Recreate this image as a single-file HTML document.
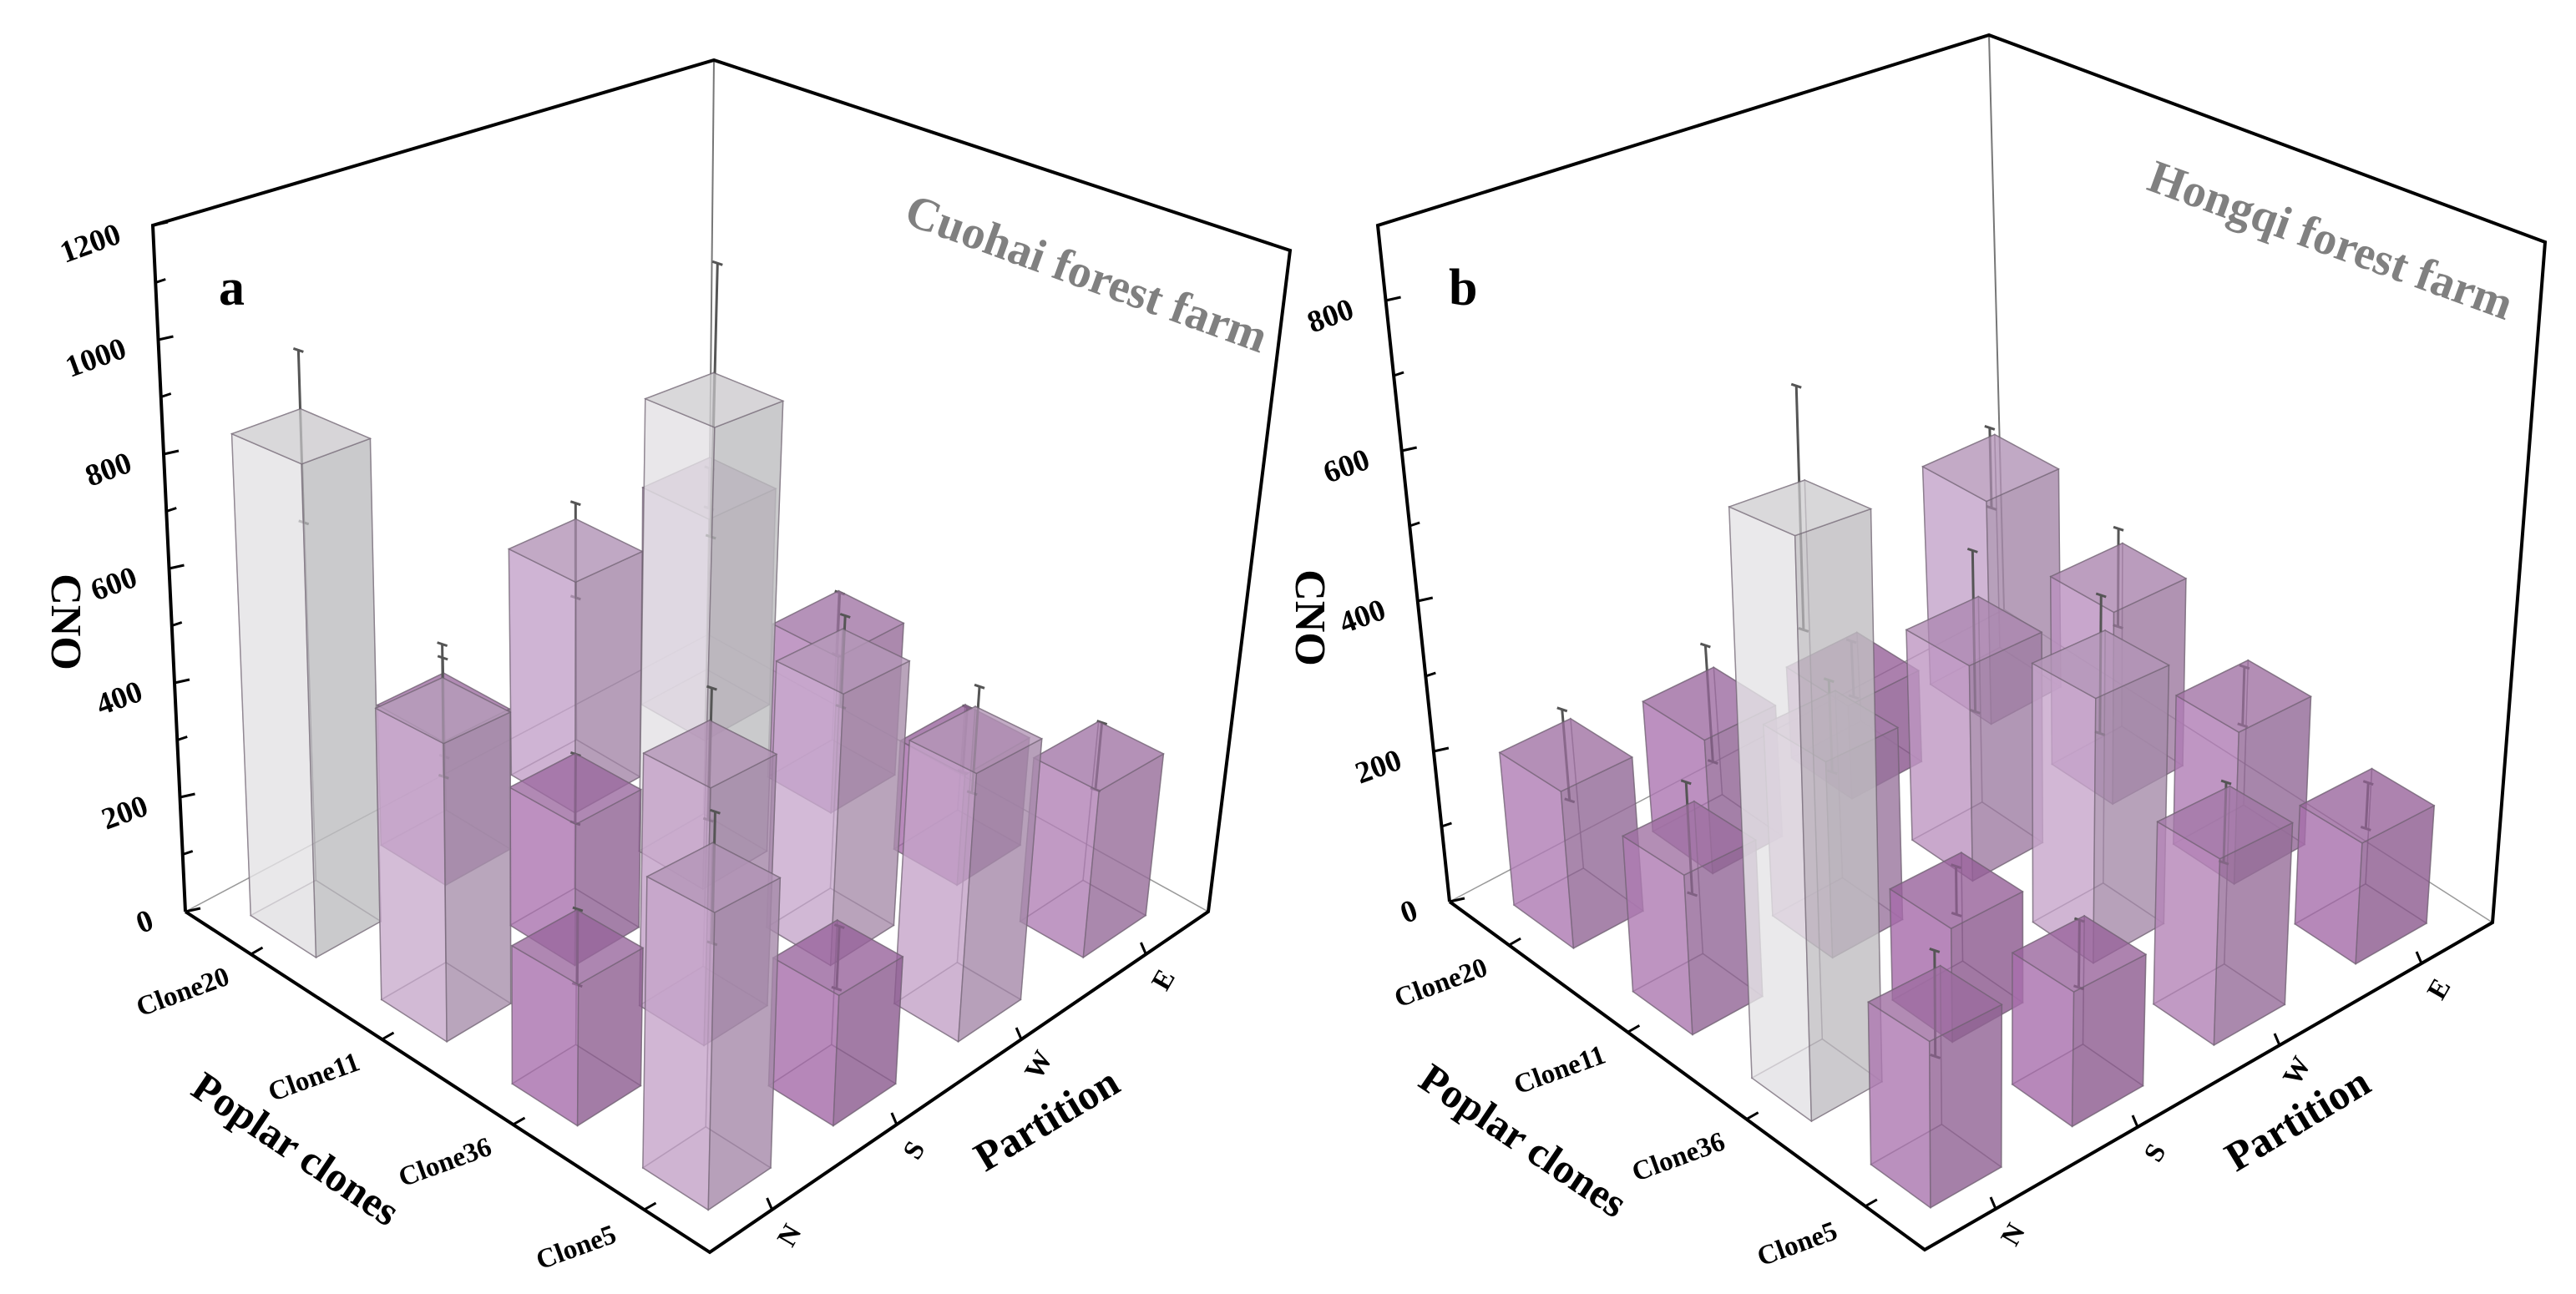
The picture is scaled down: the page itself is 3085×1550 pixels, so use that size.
<!DOCTYPE html>
<html><head><meta charset="utf-8"><style>
html,body{margin:0;padding:0;background:#fff;}
svg{display:block;}
text{font-family:"Liberation Serif",serif;font-weight:bold;}
</style></head><body>
<svg id="chart" width="3085" height="1550" viewBox="0 0 3085 1550" xmlns="http://www.w3.org/2000/svg">
<rect width="3085" height="1550" fill="#fff"/>
</svg>
<script>
const partitions = ["N","S","W","E"];
const clones = ["Clone20","Clone11","Clone36","Clone5"];
// values[clone][partition]
const valuesA = [[840,255,430,433],[484,240,825,293],[219,420,466,200],[442,204,443,291]];
const errorsA = [[150,90,90,40],[110,60,250,60],[60,110,80,60],[100,50,90,60]];
const valuesB = [[202,179,130,326],[195,250,287,268],[680,138,337,203],[184,156,227,155]];
const errorsB = [[60,80,40,60],[70,60,110,70],[145,30,90,40],[60,40,50,30]];
const yTicksA = [0,200,400,600,800,1000,1200];
const yTicksB = [0,200,400,600,800];

const NS="http://www.w3.org/2000/svg";
const svg=document.getElementById('chart');
function mk(tag,attrs,parent){const e=document.createElementNS(NS,tag);for(const k in attrs)e.setAttribute(k,attrs[k]);(parent||svg).appendChild(e);return e;}

const panels=[
 {id:'a',values:valuesA,errors:errorsA,ticks:yTicksA,max:1200,
  L:[222,1092],B:[848,760],R:[1447,1092],F:[850,1500],
  Lt:[183,270],Bt:[855,72],Rt:[1545,300],Ft:[870,510],
  title:'Cuohai forest farm',titlePos:[1295,345],letterPos:[262,365],cnoPos:[62,745],
  popPos:[345,1390],partPos:[1262,1355]},
 {id:'b',values:valuesB,errors:errorsB,ticks:yTicksB,max:900,
  L:[1736,1080],B:[2400,730],R:[2985,1105],F:[2305,1497],
  Lt:[1650,270],Bt:[2382,42],Rt:[3048,290],Ft:[2300,500],
  title:'Hongqi forest farm',titlePos:[2785,305],letterPos:[1735,365],cnoPos:[1552,740],
  popPos:[1815,1380],partPos:[2760,1355]}
];

function bil(P,u,v,a,b,c,d){return [a[0]*(1-u)*(1-v)+b[0]*u*(1-v)+c[0]*u*v+d[0]*(1-u)*v,
  a[1]*(1-u)*(1-v)+b[1]*u*(1-v)+c[1]*u*v+d[1]*(1-u)*v];}
function proj(P,u,v,t){const f=bil(P,u,v,P.L,P.B,P.R,P.F);const g=bil(P,u,v,P.Lt,P.Bt,P.Rt,P.Ft);
  return [f[0]*(1-t)+g[0]*t,f[1]*(1-t)+g[1]*t];}
function pts(a){return a.map(p=>p[0].toFixed(1)+','+p[1].toFixed(1)).join(' ');}
function lerp(a,b,t){return a+(b-a)*t;}
function cmap(t){const stops=[[0,[150,80,155]],[0.17,[168,110,172]],[0.38,[200,168,205]],[0.62,[226,224,228]],[1,[236,236,238]]];
  for(let i=0;i<stops.length-1;i++){const[s0,c0]=stops[i],[s1,c1]=stops[i+1];
    if(t<=s1){const k=Math.max(0,(t-s0)/(s1-s0));return [0,1,2].map(j=>lerp(c0[j],c1[j],k));}}
  return stops[stops.length-1][1];}
function rgb(c,f){return 'rgb('+c.map(x=>Math.round(Math.min(255,x*f))).join(',')+')';}

panels.forEach(P=>{
  const g=mk('g',{});
  
  
  const bl=mk('g',{},g);
  
  
  mk('line',{x1:P.B[0],y1:P.B[1],x2:P.Bt[0],y2:P.Bt[1],stroke:'#777','stroke-width':2},bl);
  mk('line',{x1:P.L[0],y1:P.L[1],x2:P.B[0],y2:P.B[1],stroke:'#999','stroke-width':1.5},bl);
  mk('line',{x1:P.B[0],y1:P.B[1],x2:P.R[0],y2:P.R[1],stroke:'#999','stroke-width':1.5},bl);

  const cells=[];
  for(let j=0;j<4;j++)for(let i=0;i<4;i++)cells.push([i,j]);
  cells.sort((a,b)=>(a[1]-a[0])-(b[1]-b[0]));
  const w=0.125;
  const bars=mk('g',{},g);
  
  
  cells.forEach(([i,j])=>{
    const val=P.values[j][i], err=P.errors[j][i];
    const t=val/P.max, uc=(i+0.5)/4, vc=(j+0.5)/4;
    const u0=uc-w/2,u1=uc+w/2,v0=vc-w/2,v1=vc+w/2;
    const c=cmap(t);
    const bg=mk('g',{},bars);
    
    
    const face=(arr,f,op)=>mk('polygon',{points:pts(arr),fill:rgb(c,f),'fill-opacity':op,stroke:'#6e6070','stroke-opacity':0.55,'stroke-width':1.5},bg);
    face([proj(P,u0,v0,0),proj(P,u1,v0,0),proj(P,u1,v1,0),proj(P,u0,v1,0)],0.9,0.35);
    face([proj(P,u1,v0,0),proj(P,u1,v1,0),proj(P,u1,v1,t),proj(P,u1,v0,t)],0.85,0.3);
    face([proj(P,u0,v0,0),proj(P,u1,v0,0),proj(P,u1,v0,t),proj(P,u0,v0,t)],0.95,0.3);
    const e0=proj(P,uc,vc,Math.max(0,(val-err)/P.max)), e1=proj(P,uc,vc,(val+err)/P.max);
    const eb=mk('g',{},bg);
    
    
    mk('line',{x1:e0[0],y1:e0[1],x2:e1[0],y2:e1[1],stroke:'#555','stroke-width':3},eb);
    mk('line',{x1:e1[0]-6,y1:e1[1]-2,x2:e1[0]+6,y2:e1[1]+2,stroke:'#555','stroke-width':3},eb);
    mk('line',{x1:e0[0]-6,y1:e0[1]-2,x2:e0[0]+6,y2:e0[1]+2,stroke:'#555','stroke-width':3},eb);
    face([proj(P,u0,v0,0),proj(P,u0,v1,0),proj(P,u0,v1,t),proj(P,u0,v0,t)],1.0,0.72);
    face([proj(P,u0,v1,0),proj(P,u1,v1,0),proj(P,u1,v1,t),proj(P,u0,v1,t)],0.83,0.72);
    face([proj(P,u0,v0,t),proj(P,u1,v0,t),proj(P,u1,v1,t),proj(P,u0,v1,t)],0.9,0.7);
  });

  const fr=mk('g',{},g);
  
  
  const blk={stroke:'#000','stroke-width':4,fill:'none'};
  mk('polyline',Object.assign({points:pts([P.L,P.Lt,P.Bt,P.Rt,P.R,P.F,P.L])},blk),fr);

  const za=mk('g',{},g);
  
  
  const step=P.ticks[1]-P.ticks[0];
  for(let k=0;k<=P.max;k+=step/2){
    const p=proj(P,0,0,k/P.max); const len=(k%step===0)?18:12;
    mk('line',{x1:p[0],y1:p[1],x2:p[0]+len,y2:p[1]-4,stroke:'#000','stroke-width':3},za);
  }
  P.ticks.forEach(tv=>{
    const p=proj(P,0,0,tv/P.max);
    const lx=p[0]-36, ly=p[1]+20;
    const tx=mk('text',{x:lx,y:ly,'text-anchor':'end','font-size':37,fill:'#000',
      transform:'rotate(-20 '+lx+' '+ly+')'},za);
    tx.textContent=tv;
    
    
  });

  const ca=mk('g',{},g);
  
  
  clones.forEach((cn,j)=>{
    const p=proj(P,0,(j+0.5)/4,0);
    mk('line',{x1:p[0],y1:p[1],x2:p[0]+14,y2:p[1]-8,stroke:'#000','stroke-width':3},ca);
    const lx=p[0]-78,ly=p[1]+55;
    const tx=mk('text',{x:lx,y:ly,'text-anchor':'middle','font-size':33,fill:'#000',
      transform:'rotate(-20 '+lx+' '+ly+')'},ca);
    tx.textContent=cn;
    
    
  });
  const pa=mk('g',{},g);
  
  
  partitions.forEach((pn,i)=>{
    const p=proj(P,(i+0.5)/4,1,0);
    mk('line',{x1:p[0],y1:p[1],x2:p[0]-6,y2:p[1]-14,stroke:'#000','stroke-width':3},pa);
    const lx=p[0]+30,ly=p[1]+36;
    const tx=mk('text',{x:lx,y:ly,'text-anchor':'middle','font-size':33,fill:'#000',
      transform:'rotate(-60 '+lx+' '+ly+')'},pa);
    tx.textContent=pn;
    
    
  });

  let t;
  t=mk('text',{x:P.titlePos[0],y:P.titlePos[1],'text-anchor':'middle','font-size':56,fill:'#808080',
    transform:'rotate(20 '+P.titlePos[0]+' '+P.titlePos[1]+')'},g);
  t.textContent=P.title;
  
  
  t=mk('text',{x:P.letterPos[0],y:P.letterPos[1],'font-size':62,fill:'#000'},g);
  t.textContent=P.id;
  
  
  t=mk('text',{x:P.cnoPos[0],y:P.cnoPos[1],'text-anchor':'middle','font-size':52,fill:'#000',
    transform:'rotate(90 '+P.cnoPos[0]+' '+P.cnoPos[1]+')'},g);
  t.textContent='CNO';
  
  
  t=mk('text',{x:P.popPos[0],y:P.popPos[1],'text-anchor':'middle','font-size':50,fill:'#000',
    transform:'rotate(34 '+P.popPos[0]+' '+P.popPos[1]+')'},g);
  t.textContent='Poplar clones';
  
  
  t=mk('text',{x:P.partPos[0],y:P.partPos[1],'text-anchor':'middle','font-size':50,fill:'#000',
    transform:'rotate(-31 '+P.partPos[0]+' '+P.partPos[1]+')'},g);
  t.textContent='Partition';
  
  
});
</script>
</body></html>
